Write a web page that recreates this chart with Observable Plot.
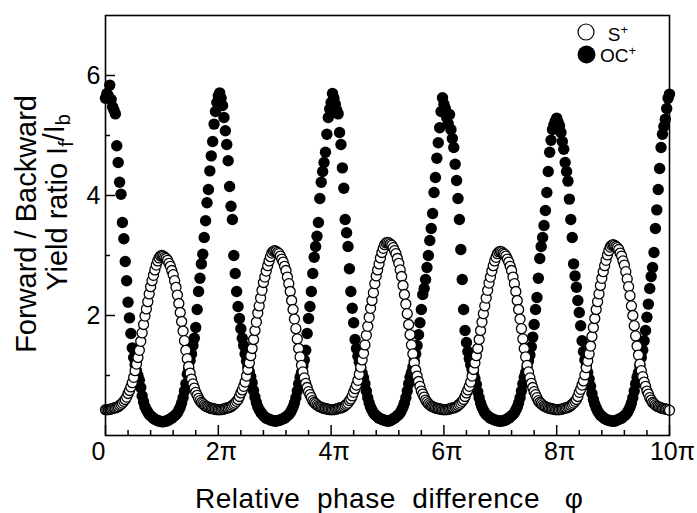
<!DOCTYPE html>
<html><head><meta charset="utf-8">
<script src="https://cdn.jsdelivr.net/npm/d3@7"></script>
<script src="https://cdn.jsdelivr.net/npm/@observablehq/plot@0.6"></script>
<style>html,body{margin:0;padding:0;background:#fff}svg{display:block}</style>
</head><body><div id="chart"></div>
<script>
// phase sampled every 0.025π (x values are in units of π)
const phaseStepPi = 0.025;

// S+ yield ratio (open circles)
const sPlusRatio = [
0.43,0.43,0.43,0.44,0.44,0.45,0.46,0.46,0.47,0.48,
0.50,0.52,0.54,0.57,0.60,0.64,0.70,0.75,0.81,0.88,
0.97,1.08,1.19,1.30,1.42,1.57,1.71,1.85,1.99,2.11,
2.23,2.36,2.48,2.58,2.67,2.76,2.84,2.91,2.96,2.99,
3.00,2.99,2.97,2.95,2.92,2.87,2.82,2.75,2.68,2.58,
2.47,2.34,2.20,2.05,1.90,1.74,1.58,1.42,1.28,1.15,
1.04,0.94,0.86,0.79,0.72,0.67,0.62,0.58,0.55,0.53,
0.51,0.49,0.48,0.47,0.46,0.45,0.45,0.44,0.44,0.43,
0.43,0.43,0.43,0.44,0.44,0.45,0.46,0.46,0.47,0.48,
0.50,0.52,0.54,0.57,0.60,0.65,0.71,0.76,0.82,0.89,
0.99,1.10,1.21,1.33,1.45,1.60,1.75,1.89,2.04,2.16,
2.29,2.42,2.55,2.64,2.74,2.83,2.91,2.98,3.04,3.07,
3.08,3.07,3.05,3.03,2.99,2.94,2.89,2.82,2.75,2.64,
2.53,2.40,2.25,2.10,1.94,1.78,1.61,1.45,1.31,1.17,
1.06,0.96,0.87,0.80,0.73,0.68,0.63,0.58,0.55,0.53,
0.51,0.49,0.48,0.47,0.46,0.45,0.45,0.44,0.44,0.43,
0.43,0.43,0.43,0.44,0.44,0.45,0.46,0.46,0.47,0.48,
0.50,0.52,0.54,0.58,0.61,0.66,0.72,0.78,0.84,0.92,
1.02,1.14,1.26,1.37,1.51,1.67,1.82,1.97,2.12,2.25,
2.38,2.53,2.66,2.76,2.86,2.96,3.05,3.12,3.18,3.21,
3.22,3.21,3.19,3.17,3.13,3.08,3.03,2.95,2.87,2.76,
2.65,2.50,2.35,2.19,2.03,1.85,1.68,1.51,1.36,1.21,
1.09,0.99,0.90,0.82,0.74,0.69,0.64,0.59,0.56,0.53,
0.51,0.49,0.48,0.47,0.46,0.45,0.45,0.44,0.44,0.43,
0.43,0.43,0.43,0.44,0.44,0.45,0.46,0.46,0.47,0.48,
0.50,0.52,0.54,0.57,0.60,0.65,0.71,0.76,0.82,0.89,
0.99,1.10,1.21,1.33,1.45,1.60,1.75,1.89,2.03,2.16,
2.29,2.42,2.54,2.64,2.74,2.83,2.91,2.97,3.03,3.06,
3.07,3.06,3.04,3.02,2.99,2.94,2.89,2.82,2.75,2.64,
2.53,2.40,2.25,2.10,1.94,1.78,1.61,1.45,1.31,1.17,
1.06,0.96,0.87,0.80,0.73,0.68,0.63,0.58,0.55,0.53,
0.51,0.49,0.48,0.47,0.46,0.45,0.45,0.44,0.44,0.43,
0.43,0.43,0.43,0.44,0.44,0.45,0.46,0.46,0.47,0.48,
0.50,0.52,0.54,0.57,0.60,0.65,0.72,0.77,0.84,0.91,
1.01,1.13,1.24,1.36,1.49,1.65,1.80,1.95,2.10,2.23,
2.36,2.50,2.62,2.73,2.83,2.92,3.01,3.08,3.14,3.17,
3.18,3.17,3.15,3.13,3.10,3.04,2.99,2.91,2.84,2.73,
2.61,2.48,2.33,2.16,2.00,1.83,1.66,1.49,1.34,1.19,
1.08,0.98,0.89,0.82,0.74,0.69,0.63,0.59,0.55,0.53,
0.51,0.49,0.48,0.47,0.46,0.45,0.45,0.44,0.44,0.43,
0.42
];

// OC+ yield ratio (filled circles)
const ocPlusRatio = [
5.62,5.70,5.66,5.84,5.60,5.48,5.42,5.36,4.83,4.55,
4.22,4.02,3.55,3.28,2.90,2.58,2.22,1.96,1.70,1.46,
1.30,1.18,1.08,1.00,0.92,0.80,0.66,0.56,0.48,0.43,
0.39,0.35,0.33,0.31,0.29,0.27,0.26,0.25,0.24,0.24,
0.23,0.23,0.24,0.24,0.25,0.26,0.28,0.29,0.31,0.33,
0.35,0.38,0.42,0.47,0.54,0.63,0.74,0.86,1.02,1.12,
1.25,1.36,1.50,1.62,1.80,2.10,2.40,2.62,2.86,3.02,
3.30,3.58,3.88,4.10,4.41,4.66,4.90,5.19,5.40,5.55,
5.66,5.71,5.62,5.50,5.30,5.08,4.85,4.58,4.15,3.82,
3.60,3.00,2.70,2.40,2.15,1.95,1.78,1.62,1.50,1.36,
1.24,1.14,1.06,0.98,0.88,0.75,0.64,0.55,0.48,0.43,
0.39,0.36,0.33,0.31,0.29,0.28,0.27,0.26,0.25,0.25,
0.24,0.24,0.25,0.25,0.26,0.27,0.28,0.29,0.31,0.33,
0.35,0.38,0.42,0.47,0.54,0.63,0.74,0.86,0.97,1.05,
1.16,1.26,1.42,1.70,1.95,2.15,2.40,2.70,2.97,3.15,
3.32,3.55,3.95,4.22,4.40,4.55,4.72,5.02,5.30,5.44,
5.55,5.70,5.62,5.52,5.42,5.36,5.05,4.85,4.46,4.12,
3.60,3.38,3.15,2.78,2.40,2.12,1.88,1.60,1.45,1.32,
1.22,1.12,1.04,0.96,0.86,0.74,0.63,0.54,0.47,0.42,
0.38,0.35,0.33,0.31,0.29,0.28,0.27,0.26,0.25,0.25,
0.24,0.24,0.25,0.26,0.28,0.29,0.31,0.33,0.35,0.38,
0.42,0.47,0.54,0.63,0.74,0.86,0.97,1.05,1.14,1.24,
1.36,1.50,1.68,1.88,2.10,2.35,2.45,2.60,2.80,3.00,
3.25,3.45,3.70,4.05,4.30,4.62,4.88,5.13,5.40,5.63,
5.52,5.45,5.30,5.20,5.35,5.10,4.95,4.80,4.52,4.25,
3.95,3.60,3.10,2.60,2.10,1.75,1.55,1.40,1.28,1.18,
1.10,1.02,0.95,0.85,0.73,0.63,0.54,0.47,0.42,0.38,
0.35,0.33,0.31,0.29,0.28,0.27,0.26,0.25,0.25,0.24,
0.24,0.24,0.25,0.25,0.26,0.28,0.29,0.31,0.33,0.35,
0.38,0.42,0.47,0.54,0.63,0.74,0.86,0.97,1.05,1.14,
1.24,1.34,1.48,1.64,1.85,2.10,2.30,2.62,2.95,3.15,
3.30,3.50,3.75,4.05,4.40,4.72,4.92,5.10,5.18,5.24,
5.29,5.22,5.16,5.05,4.90,4.77,4.55,4.40,4.24,3.94,
3.60,3.30,2.86,2.66,2.47,2.25,2.05,1.83,1.58,1.40,
1.26,1.15,1.05,0.94,0.82,0.70,0.60,0.52,0.46,0.41,
0.37,0.34,0.32,0.30,0.28,0.27,0.26,0.25,0.25,0.24,
0.24,0.24,0.25,0.26,0.27,0.28,0.29,0.31,0.33,0.35,
0.38,0.42,0.47,0.54,0.63,0.74,0.86,0.97,1.05,1.16,
1.30,1.42,1.58,1.75,1.97,2.19,2.45,2.65,2.80,3.05,
3.45,3.76,4.10,4.45,4.80,5.02,5.15,5.27,5.45,5.62,
5.69
];

const xMajorTicks = [0, 2, 4, 6, 8, 10];
const xMinorTicks = [0.4,0.8,1.2,1.6,2.4,2.8,3.2,3.6,4.4,4.8,5.2,5.6,6.4,6.8,7.2,7.6,8.4,8.8,9.2,9.6];
const yMajorTicks = [2, 4, 6];
const yMinorTicks = [1, 3, 5];
const legendNames = ["S", "OC"];

const sData = sPlusRatio.map((v, i) => ({phase: i * phaseStepPi, ratio: v}));
const ocData = ocPlusRatio.map((v, i) => ({phase: i * phaseStepPi, ratio: v}));

const W = 697, H = 513;
const mL = 105, mR = 28, mT = 15, mB = 78;
const plotW = W - mL - mR, plotH = H - mT - mB;
const FONT = '"Liberation Sans", Arial, Helvetica, sans-serif';

const chart = Plot.plot({
  width: W, height: H,
  marginLeft: mL, marginRight: mR, marginTop: mT, marginBottom: mB,
  x: {domain: [0, 10]},
  y: {domain: [0, 7]},
  style: {fontFamily: FONT, background: "white", color: "black", overflow: "visible"},
  marks: [
    Plot.tickX(xMajorTicks, {x: d => d, insetTop: plotH - 10, stroke: "black", strokeWidth: 1.5}),
    Plot.tickX(xMinorTicks, {x: d => d, insetTop: plotH - 5, stroke: "black", strokeWidth: 1.5}),
    Plot.tickY(yMajorTicks, {y: d => d, insetRight: plotW - 10, stroke: "black", strokeWidth: 1.5}),
    Plot.tickY(yMinorTicks, {y: d => d, insetRight: plotW - 5, stroke: "black", strokeWidth: 1.5}),
    Plot.dot(ocData, {x: "phase", y: "ratio", r: 5.7, fill: "black", stroke: "none"}),
    Plot.dot(sData, {x: "phase", y: "ratio", r: 5, fill: "white", stroke: "black", strokeWidth: 1.3}),
    Plot.frame({stroke: "black", strokeWidth: 1.6}),
    Plot.axisX(xMajorTicks.slice(0, 1), {tickSize: 0, tickPadding: 7, fontSize: 25, dx: -7, tickFormat: d => String(d), label: null}),
    Plot.axisX(xMajorTicks.slice(1), {tickSize: 0, tickPadding: 7, fontSize: 25, dx: 3, tickFormat: d => `${d}π`, label: null}),
    Plot.axisY(yMajorTicks, {tickSize: 0, tickPadding: 5, fontSize: 25, tickFormat: d => String(d), label: null})
  ]
});

document.getElementById("chart").appendChild(chart);
const svg = d3.select(chart);

// x-axis title
svg.append("text")
  .attr("x", 195).attr("y", 508)
  .attr("text-anchor", "start")
  .attr("xml:space", "preserve")
  .attr("textLength", 388).attr("lengthAdjust", "spacing")
  .style("white-space", "pre")
  .style("font-family", FONT).style("font-size", "28px").attr("fill", "black")
  .text("Relative  phase  difference   φ");

// y-axis title (two lines), rotated; top ends pinned to the reference positions
const yc = mT + plotH / 2;
const yl = svg.append("g").attr("transform", `translate(0,${yc}) rotate(-90)`)
  .style("font-family", FONT).style("font-size", "29px").attr("fill", "black");
yl.append("text").attr("x", yc - 95).attr("y", 36).attr("text-anchor", "end").text("Forward / Backward");
const l2 = yl.append("text").attr("x", yc - 114).attr("y", 67).attr("text-anchor", "end");
l2.append("tspan").text("Yield ratio I");
l2.append("tspan").attr("dy", "0.3em").style("font-size", "20px").text("f");
l2.append("tspan").attr("dy", "-0.3em").text("/I");
l2.append("tspan").attr("dy", "0.3em").style("font-size", "20px").text("b");

// legend
const lg = svg.append("g").style("font-family", FONT).attr("fill", "black");
lg.append("circle").attr("cx", 586).attr("cy", 32).attr("r", 8).attr("fill", "white").attr("stroke", "black").attr("stroke-width", 1.2);
lg.append("circle").attr("cx", 586.5).attr("cy", 54.5).attr("r", 9).attr("fill", "black");
legendNames.forEach((name, i) => {
  const t = lg.append("text").attr("x", 618).attr("y", i === 0 ? 41 : 62).style("font-size", "19px");
  t.append("tspan").text(name);
  t.append("tspan").attr("dy", "-0.55em").style("font-size", "13px").text("+");
});
</script>
</body></html>
